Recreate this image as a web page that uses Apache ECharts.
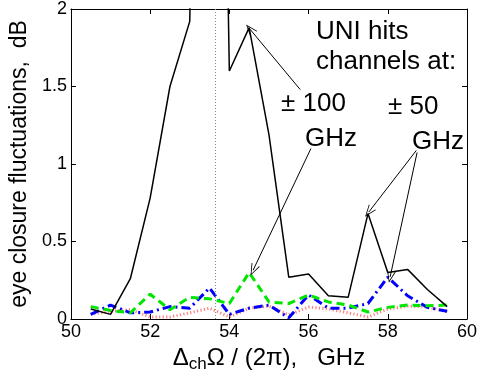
<!DOCTYPE html>
<html>
<head>
<meta charset="utf-8">
<script src="https://cdn.jsdelivr.net/npm/echarts@6/dist/echarts.min.js"></script>
<style>
html,body{margin:0;padding:0;background:#fff;}
#chart{width:480px;height:379px;}
</style>
</head>
<body>
<div id="chart"></div>
<script>
// ---- data ----
var freqs = [50.5, 51, 51.5, 52, 52.5, 53, 53.5, 54, 54.5, 55, 55.5, 56, 56.5, 57, 57.5, 58, 58.5, 59, 59.5];
var blackSolid = [0.065, 0.03, 0.26, 0.78, 1.5, 1.92, 9, 1.6, 1.88, 1.19, 0.27, 0.29, 0.15, 0.14, 0.68, 0.30, 0.32, 0.19, 0.08];
var greenDashed = [0.08, 0.055, 0.04, 0.16, 0.06, 0.14, 0.13, 0.10, 0.30, 0.11, 0.10, 0.155, 0.11, 0.09, 0.045, 0.075, 0.09, 0.085, 0.09];
var blueDashDot = [0.03, 0.09, 0.04, 0.045, 0.08, 0.07, 0.20, 0.03, 0.07, 0.09, 0.008, 0.155, 0.07, 0.07, 0.10, 0.27, 0.15, 0.075, 0.05];
var redDotted = [0.03, 0.05, 0.06, 0.013, 0.013, 0.04, 0.07, 0.013, 0.07, 0.083, 0.026, 0.077, 0.065, 0.04, 0.013, 0.065, 0.083, 0.077, 0.047];
var xTicks = [50, 52, 54, 56, 58, 60];
var yTicks = [0, 0.5, 1, 1.5, 2];
var dottedMarkerX = 53.65;
// annotation arrows: [fromX, fromY, toX, toY] in data units
var arrows = [
  [55.79, 1.48, 54.52, 1.87],
  [56.06, 1.10, 54.60, 0.315],
  [58.72, 1.087, 57.52, 0.69],
  [58.74, 1.074, 58.06, 0.272]
];
var annotationTexts = ['UNI hits', 'channels at:', '\u00b1 100', 'GHz', '\u00b1 50', 'GHz'];

function pairs(ys){ return freqs.map(function(x,i){ return [x, ys[i]]; }); }

var FONT = 'Liberation Sans, Arial, Helvetica, sans-serif';
var chevron = 'path://M5,0 L10,10 L9,10 L5,1.8 L1,10 L0,10 Z';

var chart = echarts.init(document.getElementById('chart'), null, {renderer:'canvas'});

var axisCommon = {
  type: 'value',
  axisLine: {show:true, onZero:false, lineStyle:{color:'#000', width:1}},
  axisTick: {show:true, inside:true, length:5, lineStyle:{color:'#000', width:1}},
  splitLine: {show:false}
};

var option = {
  animation: false,
  backgroundColor: '#fff',
  grid: {left:66, right:10, top:8, bottom:60, containLabel:false},
  xAxis: [
    Object.assign({}, axisCommon, {
      min: xTicks[0], max: xTicks[xTicks.length-1], interval: 2,
      position: 'bottom',
      axisLabel: {show:true, color:'#000', fontSize:18, fontFamily:FONT, margin:4},
      name: '{d|\u0394}{s|ch}{d|\u03a9 / (2\u03c0),   GHz}',
      nameLocation: 'middle', nameGap: 22,
      nameTextStyle: {rich: {
        d: {fontSize:24, fontFamily:FONT, color:'#000'},
        s: {fontSize:17, fontFamily:FONT, color:'#000', verticalAlign:'bottom', padding:[12,0,0,0]}
      }}
    }),
    Object.assign({}, axisCommon, {
      min: xTicks[0], max: xTicks[xTicks.length-1], interval: 2,
      position: 'top', axisLabel:{show:false}
    })
  ],
  yAxis: [
    Object.assign({}, axisCommon, {
      min: yTicks[0], max: yTicks[yTicks.length-1], interval: 0.5,
      position: 'left',
      axisLabel: {show:true, color:'#000', fontSize:18, fontFamily:FONT, margin:4},
      name: 'eye closure fluctuations,  dB',
      nameLocation: 'middle', nameGap: 28, nameRotate: 90,
      nameTextStyle: {fontSize:23, fontFamily:FONT, color:'#000'}
    }),
    Object.assign({}, axisCommon, {
      min: yTicks[0], max: yTicks[yTicks.length-1], interval: 0.5,
      position: 'right', axisLabel:{show:false}
    })
  ],
  series: [
    {
      type:'line', name:'red', data: pairs(redDotted), symbol:'none', clip:true, silent:true,
      lineStyle:{color:'#ff7f7f', width:3, type:[1.2,2.3]}, z:2
    },
    {
      type:'line', name:'blue', data: pairs(blueDashDot), symbol:'none', clip:true, silent:true,
      lineStyle:{color:'#0000ff', width:3, type:[9,4,2,4]}, z:3
    },
    {
      type:'line', name:'green', data: pairs(greenDashed), symbol:'none', clip:true, silent:true,
      lineStyle:{color:'#00e600', width:3, type:[8,5]}, z:4
    },
    {
      type:'line', name:'black', data: pairs(blackSolid), symbol:'none', clip:true, silent:true,
      lineStyle:{color:'#000', width:1.5, type:'solid'}, z:5,
      markLine: {
        silent:true, animation:false,
        label:{show:false},
        symbol:['none', chevron], symbolSize:[9,12],
        lineStyle:{color:'#000', width:1, type:'solid'},
        emphasis:{disabled:true},
        data: arrows.map(function(a){
          return [{coord:[a[0],a[1]]}, {coord:[a[2],a[3]]}];
        }).concat([[
          {coord:[dottedMarkerX, yTicks[0]], symbol:'none', lineStyle:{color:'#888', width:1, type:[1,2]}},
          {coord:[dottedMarkerX, yTicks[yTicks.length-1]], symbol:'none'}
        ]])
      }
    }
  ],
  graphic: [
    {type:'text', x:316, y:32, silent:true, style:{text:annotationTexts[0], font:'26px '+FONT, fill:'#000', textVerticalAlign:'middle'}},
    {type:'text', x:316, y:62, silent:true, style:{text:annotationTexts[1], font:'26px '+FONT, fill:'#000', textVerticalAlign:'middle'}},
    {type:'text', x:281, y:104, silent:true, style:{text:annotationTexts[2], font:'26px '+FONT, fill:'#000', textVerticalAlign:'middle'}},
    {type:'text', x:305, y:139, silent:true, style:{text:annotationTexts[3], font:'26px '+FONT, fill:'#000', textVerticalAlign:'middle'}},
    {type:'text', x:388, y:107, silent:true, style:{text:annotationTexts[4], font:'26px '+FONT, fill:'#000', textVerticalAlign:'middle'}},
    {type:'text', x:412, y:142, silent:true, style:{text:annotationTexts[5], font:'26px '+FONT, fill:'#000', textVerticalAlign:'middle'}}
  ]
};
chart.setOption(option);
</script>
</body>
</html>
